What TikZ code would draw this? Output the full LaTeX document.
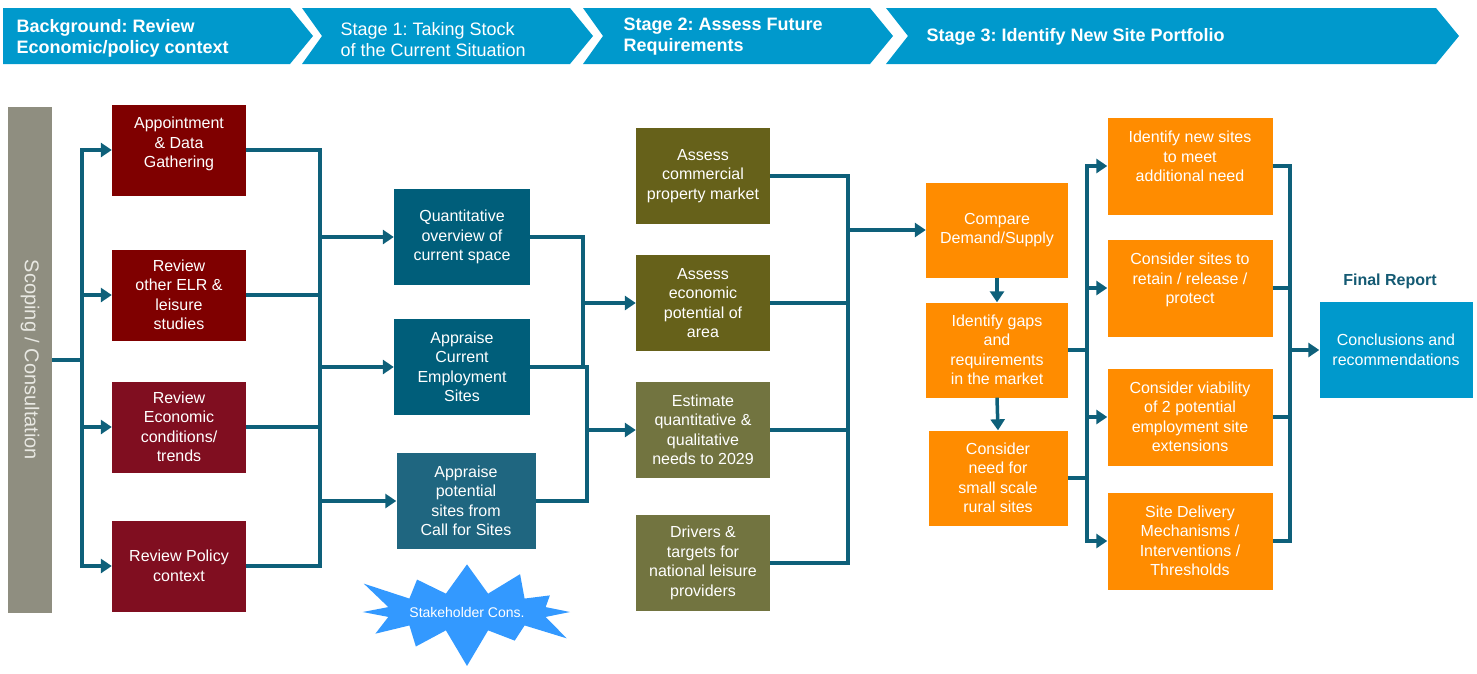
\documentclass[tikz,border=0pt]{standalone}
\usepackage{fontspec}
\setmainfont{Liberation Sans}
\frenchspacing
\usetikzlibrary{arrows.meta,shapes.symbols}

\definecolor{hdrblue}{RGB}{0,153,204}
\definecolor{scopegray}{RGB}{143,142,128}
\definecolor{scopetext}{RGB}{232,232,226}
\definecolor{redA}{RGB}{127,0,0}
\definecolor{redB}{RGB}{128,14,32}
\definecolor{tealA}{RGB}{0,94,122}
\definecolor{tealB}{RGB}{31,102,128}
\definecolor{oliveA}{RGB}{102,97,26}
\definecolor{oliveB}{RGB}{114,116,64}
\definecolor{orng}{RGB}{255,140,0}
\definecolor{linkc}{RGB}{14,96,122}
\definecolor{starblue}{RGB}{51,153,255}
\definecolor{finalc}{RGB}{20,90,115}

\begin{document}
\begin{tikzpicture}[x=1pt,y=-1pt,
  box/.style={text=white,align=center,inner sep=2pt,font=\fontsize{16}{19.5}\selectfont},
  redbox/.style={box,minimum width=134pt,minimum height=91pt},
  midbox/.style={box,minimum width=136pt,minimum height=96pt},
  olvbox/.style={box,minimum width=134pt,minimum height=96pt},
  orgbox/.style={box,fill=orng,minimum width=142pt,minimum height=95pt},
  sitebox/.style={box,fill=orng,minimum width=165pt,minimum height=97pt},
  hdr/.style={text=white,anchor=west,align=left,font=\fontsize{18}{21}\selectfont},
  hdrbold/.style={hdr,font=\fontsize{18}{21}\selectfont\bfseries},
  link/.style={draw=linkc,line width=3.5pt},
  arr/.style={link,-{Triangle[length=11pt,width=14pt]}}]

  %余白
  \useasboundingbox (0,0) rectangle (1477,673);

  %ヘッダー
  \foreach \l/\n/\r in {3/3/290,302/322/570,583/603/870,886/908/1436}
    \fill[hdrblue] (\l,8) -- (\r,8) -- (\r+23,36) -- (\r,64) -- (\l,64) -- (\n,36) -- cycle;
  \node[hdrbold] (h1) at (13,38) {Background: Review\\Economic/policy context};
  \node[hdr] (h2) at (337,40) {Stage 1: Taking Stock\\of the Current Situation};
  \node[hdrbold] (h3) at (620,37) {Stage 2: Assess Future\\Requirements};
  \node[hdrbold] (h4) at (923,37) {Stage 3: Identify New Site Portfolio};

  %スコーピング
  \node[fill=scopegray,minimum width=44pt,minimum height=506pt,text=scopetext,
        font=\fontsize{20}{20}\selectfont] (scope) at (30,360)
        {\rotatebox{-90}{Scoping / Consultation}};

  %背景
  \node[redbox,fill=redA] (app) at (179,150) {Appointment\\\& Data\\Gathering\\[-4pt]\mbox{}};
  \node[redbox,fill=redA] (elr) at (179,295) {Review\\other ELR \&\\leisure\\studies};
  \node[redbox,fill=redB] (econ) at (179,427) {Review\\Economic\\conditions/\\trends};
  \node[redbox,fill=redB] (pol) at (179,566) {Review Policy\\context};

  %ステージ1
  \node[midbox,fill=tealA] (quant) at (462,237) {Quantitative\\overview of\\current space};
  \node[midbox,fill=tealA] (cur) at (462,367) {Appraise\\Current\\Employment\\Sites};
  \node[midbox,fill=tealB,minimum width=139pt] (pot) at (466,501) {Appraise\\potential\\sites from\\Call for Sites};
  \node[starburst,starburst points=12,starburst point height=40pt,fill=starblue,text=white,
        font=\fontsize{14}{16}\selectfont,minimum width=190pt,minimum height=118pt,inner sep=0pt]
        (stake) at (467,612) {Stakeholder Cons.};

  %ステージ2
  \node[olvbox,fill=oliveA] (comm) at (703,176) {Assess\\commercial\\property market};
  \node[olvbox,fill=oliveA] (ecopot) at (703,303) {Assess\\economic\\potential of\\area};
  \node[olvbox,fill=oliveB] (est) at (703,430) {Estimate\\quantitative \&\\qualitative\\needs to 2029};
  \node[olvbox,fill=oliveB] (drv) at (703,563) {Drivers \&\\targets for\\national leisure\\providers};

  %ステージ3
  \node[orgbox] (cmp) at (997,230) {Compare\\Demand/Supply};
  \node[orgbox] (gaps) at (997,350) {Identify gaps\\and\\requirements\\in the market};
  \node[orgbox,minimum width=139pt] (need) at (998,478) {Consider\\need for\\small scale\\rural sites};
  \node[sitebox] (new) at (1190,166) {Identify new sites\\to meet\\additional need\\\mbox{}};
  \node[sitebox] (ret) at (1190,288) {Consider sites to\\retain / release /\\protect\\\mbox{}};
  \node[sitebox] (via) at (1190,417) {Consider viability\\of 2 potential\\employment site\\extensions};
  \node[sitebox] (del) at (1190,541) {Site Delivery\\Mechanisms /\\Interventions /\\Thresholds};

  %最終報告
  \node[font=\fontsize{16}{18}\selectfont\bfseries,text=finalc] (final) at (1390,281) {Final Report};
  \node[box,fill=hdrblue,minimum width=153pt,minimum height=96pt] (concl) at (1396,350) {Conclusions and\\recommendations};

  %分岐点
  \coordinate (s0) at (82,360);
  \coordinate (m0) at (320,360);
  \coordinate (xa) at (583,0);
  \coordinate (xb) at (587,0);
  \coordinate (xc) at (848,0);
  \coordinate (xd) at (1087,0);
  \coordinate (xe) at (1290,0);

  %矢印
  \draw[link] (scope.east) -- (s0);
  \draw[arr] (s0) |- (app.west);
  \draw[arr] (s0) |- (pol.west);
  \draw[arr] (s0 |- elr.west) -- (elr.west);
  \draw[arr] (s0 |- econ.west) -- (econ.west);

  \draw[link] (app.east) -| (m0) |- (pol.east);
  \draw[link] (elr.east) -- (m0 |- elr.east);
  \draw[link] (econ.east) -- (m0 |- econ.east);
  \draw[arr] (m0 |- quant.west) -- (quant.west);
  \draw[arr] (m0 |- cur.west) -- (cur.west);
  \draw[arr] (m0 |- pot.west) -- (pot.west);

  \draw[link] (quant.east) -| (xa |- cur.east);
  \draw[link] (cur.east) -| (xb |- pot.east) -- (pot.east);
  \draw[arr] (xa |- ecopot.west) -- (ecopot.west);
  \draw[arr] (xb |- est.west) -- (est.west);

  \draw[link] (comm.east) -| (xc |- drv.east) -- (drv.east);
  \draw[link] (ecopot.east) -- (xc |- ecopot.east);
  \draw[link] (est.east) -- (xc |- est.east);
  \draw[arr] (xc |- cmp.west) -- (cmp.west);

  \draw[arr] (cmp.south) -- (gaps.north);
  \draw[arr] (gaps.south) -- (need.north);

  \draw[link] (gaps.east) -- (xd |- gaps.east);
  \draw[link] (need.east) -- (xd |- need.east);
  \draw[arr] (xd |- gaps.east) |- (new.west);
  \draw[arr] (xd |- gaps.east) |- (del.west);
  \draw[arr] (xd |- ret.west) -- (ret.west);
  \draw[arr] (xd |- via.west) -- (via.west);

  \draw[link] (new.east) -| (xe |- del.east) -- (del.east);
  \draw[link] (ret.east) -- (xe |- ret.east);
  \draw[link] (via.east) -- (xe |- via.east);
  \draw[arr] (xe |- concl.west) -- (concl.west);
\end{tikzpicture}
\end{document}
